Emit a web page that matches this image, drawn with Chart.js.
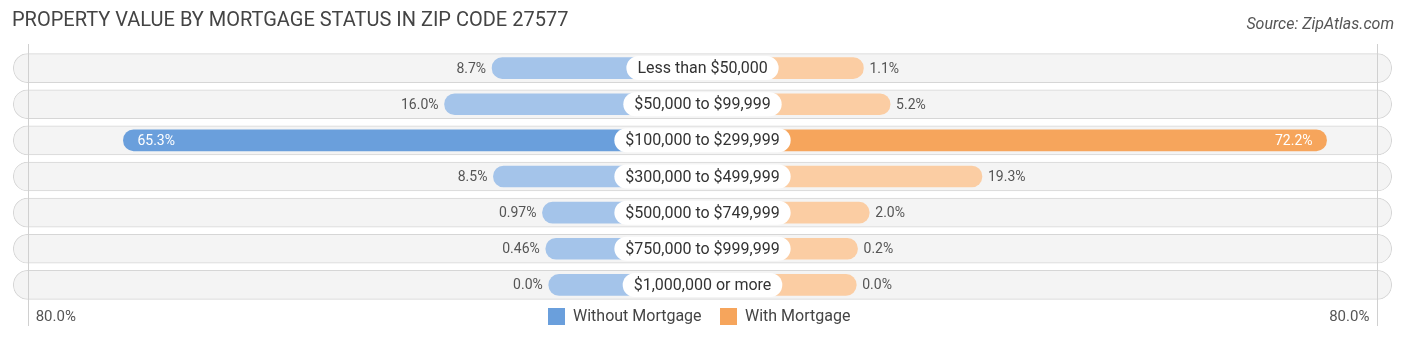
<!DOCTYPE html>
<html>
<head>
<meta charset="utf-8">
<script src="https://cdn.jsdelivr.net/npm/chart.js@4/dist/chart.umd.min.js"></script>
<style>
  html, body { margin: 0; padding: 0; background: #fff; }
  #wrap { width: 1406px; height: 340px; position: relative; }
</style>
</head>
<body>
<div id="wrap"><canvas id="grafico" width="1406" height="340"></canvas></div>
<script>
// datos
const categorias = ['Less than $50,000', '$50,000 to $99,999', '$100,000 to $299,999', '$300,000 to $499,999',
  '$500,000 to $749,999', '$750,000 to $999,999', '$1,000,000 or more'];
const sinHipoteca = [8.7, 16.0, 65.3, 8.5, 0.97, 0.46, 0.0];
const conHipoteca = [1.1, 5.2, 72.2, 19.3, 2.0, 0.2, 0.0];
const maxEje = 80;

const OFFSET = 23.6;   // espacio bajo la etiqueta central (en unidades del eje)
const LIMITE = 106;

const azul = '#6a9fdc', azulClaro = '#a4c4ea';
const naranjo = '#f6a55c', naranjoClaro = '#fbcda3';
const destacado = 2;

function fmt(v){
  return (Math.round(v * 10) / 10 === v ? v.toFixed(1) : v.toFixed(2)) + '%';
}

function pill(ctx, x, y, w, h, r){
  ctx.beginPath();
  ctx.moveTo(x + r, y);
  ctx.lineTo(x + w - r, y);
  ctx.arc(x + w - r, y + r, r, -Math.PI/2, Math.PI/2);
  ctx.lineTo(x + r, y + h);
  ctx.arc(x + r, y + r, r, Math.PI/2, Math.PI*1.5);
  ctx.closePath();
}

const etiquetas = {
  id: 'etiquetas',
  afterDatasetsDraw(chart){
    const ctx = chart.ctx, xs = chart.scales.x, ys = chart.scales.y;
    const cx = xs.getPixelForValue(0);
    ctx.save();

    // lineas de +-80%
    ctx.strokeStyle = '#d0d0d0';
    ctx.lineWidth = 1;
    [-(maxEje + OFFSET), maxEje + OFFSET].forEach(v => {
      const x = Math.round(xs.getPixelForValue(v)) + 0.5;
      ctx.beginPath();
      ctx.moveTo(x, 44);
      ctx.lineTo(x, 326);
      ctx.stroke();
    });

    ctx.textBaseline = 'middle';
    categorias.forEach((cat, i) => {
      const y = ys.getPixelForValue(i);
      // etiqueta central
      ctx.font = '16px Roboto';
      const w = ctx.measureText(cat).width + 22;
      ctx.fillStyle = '#ffffff';
      pill(ctx, cx - w/2, y - 12, w, 24, 12);
      ctx.fill();
      ctx.fillStyle = '#333';
      ctx.textAlign = 'center';
      ctx.fillText(cat, cx, y + 1);

      ctx.font = '14px Roboto';
      // izquierda
      const xl = xs.getPixelForValue(-(OFFSET + sinHipoteca[i]));
      if (sinHipoteca[i] > 40){
        ctx.fillStyle = '#fff';
        ctx.textAlign = 'left';
        ctx.fillText(fmt(sinHipoteca[i]), xl + 14, y + 1);
      } else {
        ctx.fillStyle = '#555';
        ctx.textAlign = 'right';
        ctx.fillText(fmt(sinHipoteca[i]), xl - 6, y + 1);
      }
      // derecha
      const xr = xs.getPixelForValue(OFFSET + conHipoteca[i]);
      if (conHipoteca[i] > 40){
        ctx.fillStyle = '#fff';
        ctx.textAlign = 'right';
        ctx.fillText(fmt(conHipoteca[i]), xr - 14, y + 1);
      } else {
        ctx.fillStyle = '#555';
        ctx.textAlign = 'left';
        ctx.fillText(fmt(conHipoteca[i]), xr + 6, y + 1);
      }
    });

    // eje
    ctx.font = '15px Roboto';
    ctx.fillStyle = '#555';
    ctx.textAlign = 'left';
    ctx.fillText(maxEje.toFixed(1) + '%', xs.getPixelForValue(-(maxEje + OFFSET)) + 8, 317);
    ctx.textAlign = 'right';
    ctx.fillText(maxEje.toFixed(1) + '%', xs.getPixelForValue(maxEje + OFFSET) - 8, 317);

    // leyenda
    ctx.font = '16px Roboto';
    ctx.textAlign = 'left';
    ctx.fillStyle = azul;
    ctx.fillRect(548, 308, 17, 17);
    ctx.fillStyle = '#444';
    ctx.fillText('Without Mortgage', 573, 317);
    ctx.fillStyle = naranjo;
    ctx.fillRect(720, 308, 17, 17);
    ctx.fillStyle = '#444';
    ctx.fillText('With Mortgage', 745, 317);

    // titulo y fuente
    ctx.font = '20px Roboto';
    ctx.fillStyle = '#444';
    ctx.textAlign = 'left';
    ctx.fillText('PROPERTY VALUE BY MORTGAGE STATUS IN ZIP CODE 27577', 12, 21);
    ctx.font = 'italic 16px Roboto';
    ctx.fillStyle = '#555';
    ctx.textAlign = 'right';
    ctx.fillText('Source: ZipAtlas.com', 1394, 25);
    ctx.restore();
  }
};

const ctx = document.getElementById('grafico').getContext('2d');
new Chart(ctx, {
  type: 'bar',
  data: {
    labels: categorias,
    datasets: [
      {
        label: 'Without Mortgage',
        data: sinHipoteca.map(v => [-(OFFSET + v), 0]),
        backgroundColor: sinHipoteca.map((v, i) => i === destacado ? azul : azulClaro),
        borderRadius: 11,
        borderSkipped: false,
        barThickness: 21,
        grouped: false,
        order: 1
      },
      {
        label: 'With Mortgage',
        data: conHipoteca.map(v => [0, OFFSET + v]),
        backgroundColor: conHipoteca.map((v, i) => i === destacado ? naranjo : naranjoClaro),
        borderRadius: 11,
        borderSkipped: false,
        barThickness: 21,
        grouped: false,
        order: 1
      },
      {
        label: 'fondo',
        data: categorias.map(() => [-LIMITE + 0.2, LIMITE - 0.2]),
        backgroundColor: '#f4f4f4',
        borderColor: '#d6d6d6',
        borderWidth: 1,
        borderRadius: 15,
        borderSkipped: false,
        barThickness: 29,
        grouped: false,
        order: 2
      }
    ]
  },
  options: {
    indexAxis: 'y',
    responsive: false,
    animation: false,
    layout: { padding: { left: 12, right: 13, top: 50, bottom: 37 } },
    scales: {
      x: { display: false, min: -LIMITE, max: LIMITE },
      y: { display: false }
    },
    plugins: {
      legend: { display: false },
      tooltip: { enabled: false }
    }
  },
  plugins: [etiquetas]
});
</script>
</body>
</html>
